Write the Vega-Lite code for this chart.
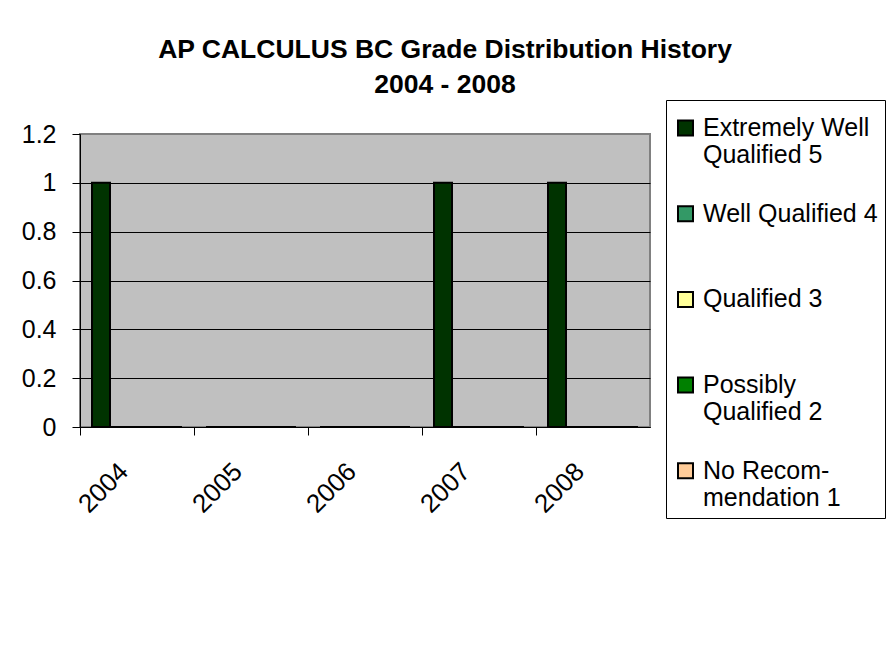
{
  "$schema": "https://vega.github.io/schema/vega-lite/v6.json",
  "autosize": {"type": "none"},
  "padding": {"left": 80, "top": 134, "right": 240, "bottom": 218},
  "width": 570,
  "height": 293,
  "background": "white",
  "title": {
    "text": ["AP CALCULUS BC Grade Distribution History", "2004 - 2008"],
    "font": "Liberation Sans",
    "fontSize": 26.5,
    "fontWeight": "bold",
    "lineHeight": 35,
    "color": "black",
    "anchor": "middle",
    "frame": "group",
    "dx": 80,
    "offset": 1
  },
  "data": {
    "values": [
      {"year": "2004", "grade": "Extremely Well Qualified 5", "count": 1},
      {"year": "2004", "grade": "Well Qualified 4", "count": 0},
      {"year": "2004", "grade": "Qualified 3", "count": 0},
      {"year": "2004", "grade": "Possibly Qualified 2", "count": 0},
      {"year": "2004", "grade": "No Recommendation 1", "count": 0},
      {"year": "2005", "grade": "Extremely Well Qualified 5", "count": 0},
      {"year": "2005", "grade": "Well Qualified 4", "count": 0},
      {"year": "2005", "grade": "Qualified 3", "count": 0},
      {"year": "2005", "grade": "Possibly Qualified 2", "count": 0},
      {"year": "2005", "grade": "No Recommendation 1", "count": 0},
      {"year": "2006", "grade": "Extremely Well Qualified 5", "count": 0},
      {"year": "2006", "grade": "Well Qualified 4", "count": 0},
      {"year": "2006", "grade": "Qualified 3", "count": 0},
      {"year": "2006", "grade": "Possibly Qualified 2", "count": 0},
      {"year": "2006", "grade": "No Recommendation 1", "count": 0},
      {"year": "2007", "grade": "Extremely Well Qualified 5", "count": 1},
      {"year": "2007", "grade": "Well Qualified 4", "count": 0},
      {"year": "2007", "grade": "Qualified 3", "count": 0},
      {"year": "2007", "grade": "Possibly Qualified 2", "count": 0},
      {"year": "2007", "grade": "No Recommendation 1", "count": 0},
      {"year": "2008", "grade": "Extremely Well Qualified 5", "count": 1},
      {"year": "2008", "grade": "Well Qualified 4", "count": 0},
      {"year": "2008", "grade": "Qualified 3", "count": 0},
      {"year": "2008", "grade": "Possibly Qualified 2", "count": 0},
      {"year": "2008", "grade": "No Recommendation 1", "count": 0}
    ]
  },
  "mark": {"type": "bar", "stroke": "black", "strokeWidth": 2},
  "encoding": {
    "x": {
      "field": "year",
      "type": "nominal",
      "scale": {"paddingInner": 0, "paddingOuter": 0},
      "axis": {
        "title": null,
        "bandPosition": 0,
        "labelAngle": -45,
        "labelFont": "Liberation Sans",
        "labelFontSize": 26,
        "labelColor": "black",
        "labelPadding": 23,
        "labelOffset": -22,
        "tickSize": 8,
        "tickColor": "black",
        "domainColor": "black",
        "domainWidth": 1,
        "grid": false
      }
    },
    "xOffset": {
      "field": "grade",
      "type": "nominal",
      "scale": {
        "domain": ["Extremely Well Qualified 5", "Well Qualified 4", "Qualified 3", "Possibly Qualified 2", "No Recommendation 1"],
        "paddingInner": 0,
        "paddingOuter": 0.667
      }
    },
    "y": {
      "field": "count",
      "type": "quantitative",
      "scale": {"domain": [0, 1.2], "nice": false},
      "axis": {
        "title": null,
        "values": [0, 0.2, 0.4, 0.6, 0.8, 1, 1.2],
        "format": "~g",
        "labelFont": "Liberation Sans",
        "labelFontSize": 25,
        "labelColor": "black",
        "labelPadding": 16,
        "tickSize": 8,
        "tickColor": "black",
        "domainColor": "black",
        "grid": true,
        "gridColor": {"condition": {"test": "datum.value >= 1.2", "value": "#808080"}, "value": "black"},
        "gridWidth": 1
      }
    },
    "color": {
      "field": "grade",
      "type": "nominal",
      "scale": {
        "domain": ["Extremely Well Qualified 5", "Well Qualified 4", "Qualified 3", "Possibly Qualified 2", "No Recommendation 1"],
        "range": ["#003300", "#339966", "#FFFF99", "#008000", "#FFCC99"]
      },
      "legend": {
        "title": " ",
        "titleOrient": "top",
        "titleFontSize": 1,
        "titlePadding": 7.5,
        "orient": "none",
        "legendX": 586,
        "legendY": -34,
        "padding": 7,
        "strokeColor": "black",
        "fillColor": "white",
        "symbolType": "square",
        "symbolSize": 225,
        "symbolStrokeColor": "black",
        "symbolStrokeWidth": 2,
        "symbolOpacity": 1,
        "labelFont": "Liberation Sans",
        "labelFontSize": 25,
        "labelColor": "black",
        "labelLineHeight": 30,
        "labelBaseline": "middle",
        "labelLimit": 300,
        "labelOffset": 5,
        "rowPadding": 32.7,
        "labelExpr": "datum.label == 'Extremely Well Qualified 5' ? ['Extremely Well', 'Qualified 5'] : datum.label == 'Possibly Qualified 2' ? ['Possibly', 'Qualified 2'] : datum.label == 'No Recommendation 1' ? ['No Recom-', 'mendation 1'] : [datum.label, ' ']"
      }
    }
  },
  "config": {
    "view": {"fill": "#C0C0C0", "stroke": "#808080", "strokeWidth": 2}
  }
}
